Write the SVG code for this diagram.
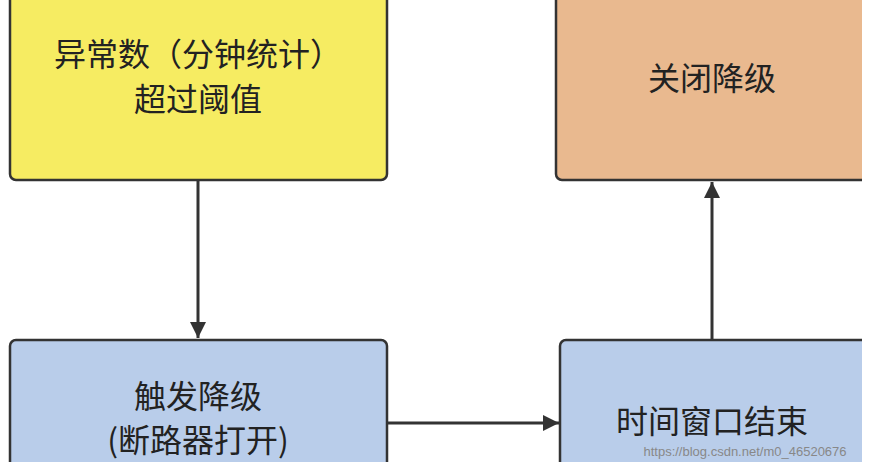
<svg xmlns="http://www.w3.org/2000/svg" width="881" height="462" viewBox="0 0 881 462">
<style>
.box{stroke:#333;stroke-width:2.5}
.t{font-family:"Noto Sans CJK SC","Noto Sans",sans-serif;font-size:32px;fill:#222;text-anchor:middle}
.c{stroke:#333;stroke-width:3;fill:none;marker-end:url(#ah)}
</style>
<defs><marker id="ah" markerWidth="16" markerHeight="20" refX="16" refY="8" orient="auto" markerUnits="userSpaceOnUse"><path d="M0,0 L16,8 L0,16 z" fill="#333"/></marker></defs>
<rect width="881" height="462" fill="#fff"/>
<g id="n1"><rect class="box" x="10" y="-20" width="377" height="200" rx="6" fill="#f6ec62"/>
<text class="t" x="198" y="66">异常数（分钟统计）</text><text class="t" x="198" y="111">超过阈值</text></g>
<g id="n2"><rect class="box" x="556" y="-20" width="320" height="200" rx="6" fill="#e9b98f"/>
<text class="t" x="712" y="90">关闭降级</text></g>
<g id="n3"><rect class="box" x="10" y="340" width="377" height="140" rx="6" fill="#b9cdea"/>
<text class="t" x="198" y="408">触发降级</text><text class="t" x="198" y="452">(断路器打开)</text></g>
<g id="n4"><rect class="box" x="560" y="340" width="316" height="140" rx="6" fill="#b9cdea"/>
<text class="t" x="712" y="433">时间窗口结束</text></g>
<g id="connectors">
<line class="c" x1="198" y1="181" x2="198" y2="338"/>
<line class="c" x1="388" y1="423" x2="559" y2="423"/>
<line class="c" x1="712" y1="339" x2="712" y2="182"/>
</g>
<rect x="862" y="0" width="19" height="462" fill="#fff"/>
<text x="745" y="456" font-family="Liberation Sans,sans-serif" font-size="13" fill="#888" text-anchor="middle">https://blog.csdn.net/m0_46520676</text>
</svg>
